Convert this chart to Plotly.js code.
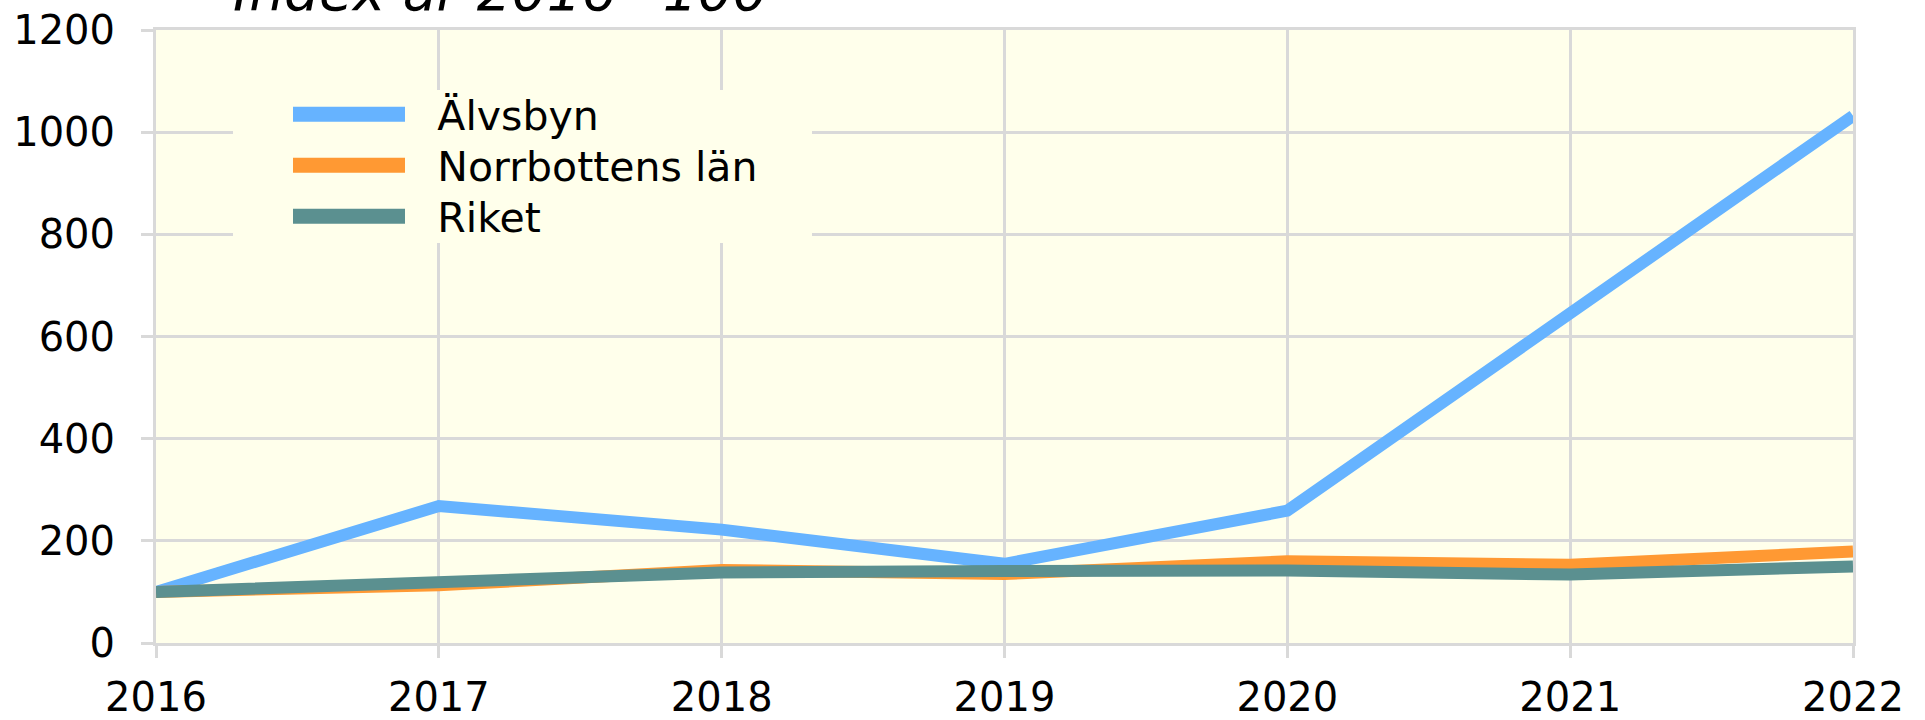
<!DOCTYPE html>
<html>
<head>
<meta charset="utf-8">
<script src="https://cdn.plot.ly/plotly-3.0.1.min.js"></script>
<style>html,body{margin:0;padding:0;background:#fff;}#chart{width:1925px;height:720px;}</style>
</head>
<body>
<div id="chart"></div>
<script>
const years = [2016, 2017, 2018, 2019, 2020, 2021, 2022];
const alvsbyn = [100, 268, 222, 155, 259, 644, 1032];
const norrbotten = [100, 113, 143, 135, 160, 153, 179];
const riket = [100, 118, 138, 141, 142, 134, 150];
const seriesNames = ['Älvsbyn', 'Norrbottens län', 'Riket'];
const titleText = 'Index år 2016=100';
const yTicks = [0, 200, 400, 600, 800, 1000, 1200];

const FONT = 'DejaVu Sans, Verdana, sans-serif';
const GRID = '#D9D9D9';
const GAP = '\u2002\u2006';

const traces = [
  {x: years, y: alvsbyn, name: GAP + seriesNames[0], type: 'scatter', mode: 'lines',
   line: {color: '#66B3FF', width: 12}},
  {x: years, y: norrbotten, name: GAP + seriesNames[1], type: 'scatter', mode: 'lines',
   line: {color: '#FF9933', width: 12}},
  {x: years, y: riket, name: GAP + seriesNames[2], type: 'scatter', mode: 'lines',
   line: {color: '#5B9090', width: 12}}
];

const layout = {
  width: 1925, height: 720,
  paper_bgcolor: '#FFFFFF',
  plot_bgcolor: '#FFFFEB',
  margin: {l: 156, r: 72, t: 30, b: 77, pad: 0},
  font: {family: FONT, size: 40, color: '#000000'},
  title: {text: '<i>' + titleText + '</i>', font: {family: FONT, size: 55, color: '#000'},
          x: 233/1925, xanchor: 'left', xref: 'container', y: 1 - 10/720, yanchor: 'bottom', yref: 'container'},
  showlegend: true,
  legend: {x: 77/1697, y: (643-90)/613, xanchor: 'left', yanchor: 'top', bgcolor: '#FFFFEB',
           font: {family: FONT, size: 41, color: '#000'}, itemwidth: 112, tracegroupgap: 0,
           indentation: 55},
  xaxis: {range: [2016, 2022], tickvals: years, ticktext: years.map(String),
          showgrid: true, gridcolor: GRID, gridwidth: 3,
          showline: true, mirror: true, linecolor: GRID, linewidth: 3,
          ticks: 'outside', ticklen: 12, tickwidth: 3, tickcolor: GRID,
          ticklabelstandoff: 5,
          zeroline: false, fixedrange: true},
  yaxis: {range: [0, 1200], tickvals: yTicks,
          showgrid: true, gridcolor: GRID, gridwidth: 3,
          showline: true, mirror: true, linecolor: GRID, linewidth: 3,
          ticks: 'outside', ticklen: 12, tickwidth: 3, tickcolor: GRID,
          ticklabelstandoff: 18,
          zeroline: false, fixedrange: true}
};

Plotly.newPlot('chart', traces, layout, {displayModeBar: false, staticPlot: true}).then(function (gd) {
  const leg = gd.querySelector('.legend');
  if (!leg) return;
  leg.querySelectorAll('.js-line').forEach(function (p) { p.style.strokeWidth = '15px'; });
  const items = leg.querySelectorAll('g.traces');
  let y0 = null;
  items.forEach(function (g, i) {
    const t = g.getAttribute('transform') || '';
    const m = /translate\(\s*([-\d.eE]+)[ ,]+([-\d.eE]+)\s*\)/.exec(t);
    if (!m) return;
    if (y0 === null) y0 = parseFloat(m[2]);
    g.setAttribute('transform', 'translate(' + m[1] + ',' + (y0 - 9 + i * 51) + ')');
  });
  const bg = leg.querySelector('rect.bg');
  if (bg) {
    bg.setAttribute('height', 153);
    bg.setAttribute('width', parseFloat(bg.getAttribute('width')) + 49);
  }
});
</script>
</body>
</html>
